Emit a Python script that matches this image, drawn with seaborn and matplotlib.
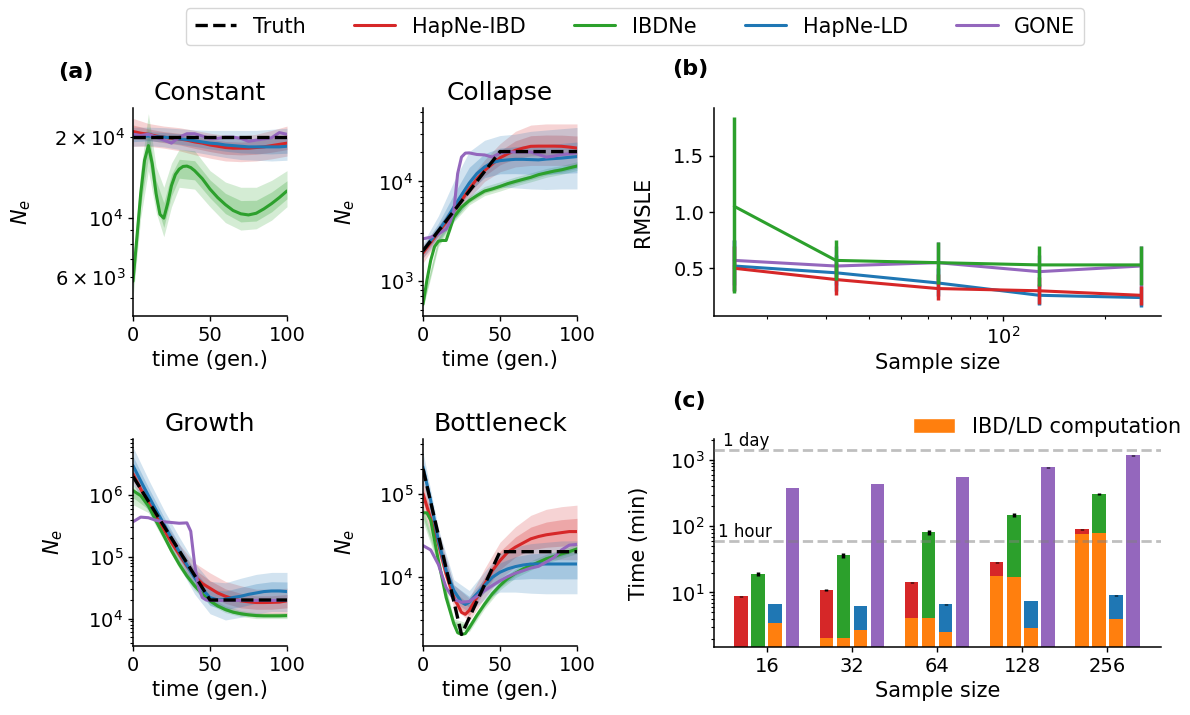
import numpy as np
import pandas as pd
import matplotlib
matplotlib.use("Agg")
import matplotlib.pyplot as plt
import matplotlib.transforms as mtransforms
from matplotlib.colors import to_hex
from matplotlib.lines import Line2D
from matplotlib.patches import Patch
import seaborn as sns

# ------------------------------------------------------------------ data
METHODS = ["HapNe-IBD", "IBDNe", "HapNe-LD", "GONE"]
COLORS = {"HapNe-IBD": "#d62728", "IBDNe": "#2ca02c",
          "HapNe-LD": "#1f77b4", "GONE": "#9467bd"}
ORANGE = "#ff7f0e"

T5 = list(range(0, 101, 5))
T10 = list(range(0, 101, 10))

# ---- (a) Constant
CONST_TRUTH_X = [0, 100]
CONST_TRUTH_Y = [2e4, 2e4]
CONST_IBD_Y = [2.1e4, 2.07e4, 2.05e4, 2.02e4, 2.0e4, 1.98e4, 1.97e4, 1.95e4, 1.92e4, 1.9e4, 1.87e4,
               1.85e4, 1.83e4, 1.82e4, 1.82e4, 1.82e4, 1.83e4, 1.84e4, 1.86e4, 1.88e4, 1.9e4]
CONST_IBD_LO = [1.85e4, 1.85e4, 1.82e4, 1.78e4, 1.72e4, 1.67e4, 1.63e4, 1.62e4, 1.63e4, 1.66e4, 1.7e4]
CONST_IBD_HI = [2.35e4, 2.25e4, 2.2e4, 2.17e4, 2.12e4, 2.07e4, 2.03e4, 2.02e4, 2.05e4, 2.12e4, 2.2e4]
CONST_IBDNE_X = [0, 2.5, 5, 7.5, 10, 12.5, 15, 17.5, 20, 22.5, 25, 27.5, 30, 32.5, 35, 37.5, 40,
                 45, 50, 55, 60, 65, 70, 75, 80, 85, 90, 95, 100]
CONST_IBDNE_Y = [5.8e3, 8.4e3, 1.23e4, 1.64e4, 1.86e4, 1.59e4, 1.23e4, 1.03e4, 9.97e3, 1.13e4, 1.32e4,
                 1.45e4, 1.52e4, 1.555e4, 1.56e4, 1.54e4, 1.5e4, 1.4e4, 1.28e4, 1.19e4, 1.12e4,
                 1.065e4, 1.035e4, 1.025e4, 1.04e4, 1.08e4, 1.13e4, 1.19e4, 1.26e4]
CONST_IBDNE_BX = [0, 5, 10, 15, 20, 25, 30, 40, 50, 60, 70, 80, 90, 100]
CONST_IBDNE_LO = [5.0e3, 1.0e4, 1.5e4, 1.05e4, 8.5e3, 1.1e4, 1.3e4, 1.28e4, 1.1e4, 9.6e3, 9.0e3,
                  9.1e3, 9.8e3, 1.1e4]
CONST_IBDNE_HI = [6.8e3, 1.5e4, 2.45e4, 1.55e4, 1.3e4, 1.6e4, 1.8e4, 1.78e4, 1.5e4, 1.36e4, 1.3e4,
                  1.3e4, 1.38e4, 1.5e4]
CONST_LD_Y = [2.0e4, 2.01e4, 2.02e4, 2.01e4, 2.0e4, 1.99e4, 1.97e4, 1.96e4, 1.94e4, 1.92e4, 1.9e4,
              1.89e4, 1.87e4, 1.86e4, 1.85e4, 1.84e4, 1.84e4, 1.84e4, 1.84e4, 1.84e4, 1.85e4]
CONST_LD_LO = [1.85e4, 1.86e4, 1.84e4, 1.8e4, 1.76e4, 1.72e4, 1.68e4, 1.65e4, 1.64e4, 1.63e4, 1.64e4]
CONST_LD_HI = [2.18e4, 2.18e4, 2.17e4, 2.15e4, 2.13e4, 2.12e4, 2.12e4, 2.12e4, 2.12e4, 2.14e4, 2.16e4]
CONST_GONE_Y = [2.05e4, 2.03e4, 2.05e4, 2.0e4, 1.95e4, 1.9e4, 2.0e4, 2.06e4, 2.06e4, 2.02e4, 1.98e4,
                1.98e4, 2.0e4, 2.0e4, 1.98e4, 1.93e4, 1.95e4, 1.97e4, 1.99e4, 2.08e4, 2.05e4]

# ---- (a) Collapse
COLL_TRUTH_X = [0, 50, 100]
COLL_TRUTH_Y = [2e3, 2e4, 2e4]
COLL_IBD_Y = [1.9e3, 2.43e3, 3.08e3, 3.88e3, 5.1e3, 6.43e3, 8.4e3, 1.06e4, 1.29e4, 1.5e4, 1.73e4,
              1.9e4, 2.06e4, 2.17e4, 2.26e4, 2.27e4, 2.27e4, 2.27e4, 2.26e4, 2.22e4, 2.17e4]
COLL_IBD_LO = [1.5e3, 2.6e3, 4.3e3, 6.8e3, 1.0e4, 1.25e4, 1.4e4, 1.45e4, 1.45e4, 1.45e4, 1.4e4]
COLL_IBD_HI = [2.3e3, 3.6e3, 6.0e3, 1.05e4, 1.65e4, 2.4e4, 3.2e4, 3.7e4, 3.8e4, 3.8e4, 3.8e4]
COLL_IBDNE_X = [0, 2.5, 5, 7.5, 10, 12.5, 15, 17.5, 20, 25, 30, 35, 40, 45, 50, 55, 60, 65, 70,
                75, 80, 85, 90, 95, 100]
COLL_IBDNE_Y = [580, 1.0e3, 1.6e3, 2.2e3, 2.5e3, 2.54e3, 2.54e3, 3.3e3, 4.36e3, 5.5e3, 6.4e3,
                7.2e3, 8.0e3, 8.4e3, 8.9e3, 9.5e3, 1.0e4, 1.05e4, 1.1e4, 1.17e4, 1.22e4, 1.27e4,
                1.31e4, 1.37e4, 1.43e4]
COLL_IBDNE_LO = [520, 2.2e3, 3.9e3, 5.8e3, 7.2e3, 8.0e3, 9.0e3, 9.9e3, 1.1e4, 1.18e4, 1.29e4]
COLL_IBDNE_HI = [650, 2.8e3, 4.9e3, 7.1e3, 8.9e3, 9.9e3, 1.11e4, 1.22e4, 1.35e4, 1.45e4, 1.58e4]
COLL_LD_Y = [2.0e3, 2.55e3, 3.2e3, 4.1e3, 5.5e3, 7.3e3, 9.6e3, 1.2e4, 1.4e4, 1.55e4, 1.62e4,
             1.65e4, 1.67e4, 1.67e4, 1.66e4, 1.65e4, 1.68e4, 1.7e4, 1.72e4, 1.75e4, 1.78e4]
COLL_LD_LO = [1.7e3, 2.5e3, 4.0e3, 6.5e3, 8.5e3, 8.8e3, 8.6e3, 8.4e3, 8.3e3, 8.4e3, 8.4e3]
COLL_LD_HI = [2.4e3, 4.5e3, 1.0e4, 2.0e4, 2.6e4, 2.9e4, 3.0e4, 3.2e4, 3.3e4, 3.4e4, 3.5e4]
COLL_GONE_X = [0, 5, 10, 15, 17.5, 20, 22.5, 25, 27.5, 30, 35, 40, 45, 50, 55, 60, 65, 70, 75,
               80, 85, 90, 95, 100]
COLL_GONE_Y = [2.64e3, 2.74e3, 2.96e3, 3.3e3, 3.9e3, 5.0e3, 1.2e4, 1.76e4, 1.93e4, 1.94e4, 1.87e4,
               1.85e4, 1.76e4, 1.93e4, 1.98e4, 1.98e4, 1.98e4, 1.98e4, 1.87e4, 1.76e4, 1.8e4,
               1.87e4, 1.9e4, 1.95e4]

# ---- (a) Growth
GROW_TRUTH_X = [0, 50, 100]
GROW_TRUTH_Y = [2e6, 2e4, 2e4]
GROW_IBD_Y = [2.2e6, 1.25e6, 7.6e5, 4.6e5, 2.8e5, 1.7e5, 1.1e5, 7.1e4, 4.9e4, 3.7e4, 3.1e4, 2.6e4,
              2.3e4, 2.1e4, 1.94e4, 1.87e4, 1.82e4, 1.82e4, 1.83e4, 1.85e4, 1.94e4]
GROW_IBD_LO = [1.6e6, 5.8e5, 2.1e5, 8.0e4, 3.4e4, 1.9e4, 1.35e4, 1.15e4, 1.1e4, 1.1e4, 1.15e4]
GROW_IBD_HI = [3.0e6, 1.0e6, 3.8e5, 1.6e5, 8.0e4, 5.5e4, 4.0e4, 3.4e4, 3.0e4, 3.0e4, 3.1e4]
GROW_IBDNE_Y = [1.18e6, 9.8e5, 6.7e5, 3.8e5, 2.2e5, 1.25e5, 7.6e4, 4.9e4, 3.4e4, 2.5e4, 1.94e4,
                1.6e4, 1.4e4, 1.27e4, 1.2e4, 1.15e4, 1.12e4, 1.11e4, 1.11e4, 1.11e4, 1.12e4]
GROW_IBDNE_LO = [7.0e5, 5.2e5, 1.85e5, 6.5e4, 2.9e4, 1.68e4, 1.25e4, 1.08e4, 1.0e4, 1.0e4, 1.0e4]
GROW_IBDNE_HI = [1.5e6, 8.3e5, 2.6e5, 8.8e4, 3.9e4, 2.2e4, 1.6e4, 1.35e4, 1.25e4, 1.24e4, 1.25e4]
GROW_LD_Y = [3.0e6, 1.7e6, 9.8e5, 5.7e5, 3.4e5, 2.0e5, 1.22e5, 7.4e4, 4.6e4, 3.0e4, 2.2e4, 2.0e4,
             2.06e4, 2.2e4, 2.3e4, 2.47e4, 2.6e4, 2.74e4, 2.8e4, 2.8e4, 2.74e4]
GROW_LD_LO = [1.5e6, 5.5e5, 2.0e5, 7.0e4, 2.5e4, 1.2e4, 9.5e3, 1.05e4, 1.2e4, 1.3e4, 1.3e4]
GROW_LD_HI = [6.0e6, 1.8e6, 5.8e5, 2.1e5, 8.0e4, 4.0e4, 3.8e4, 4.5e4, 5.2e4, 5.6e4, 5.6e4]
GROW_GONE_X = [0, 5, 10, 15, 20, 25, 30, 35, 37.5, 40, 42.5, 45, 47.5, 50, 55, 60, 65, 70, 75,
               80, 85, 90, 95, 100]
GROW_GONE_Y = [3.7e5, 4.4e5, 4.3e5, 3.9e5, 3.7e5, 3.6e5, 3.5e5, 3.55e5, 2.6e5, 7.6e4, 3.2e4,
               2.2e4, 2.0e4, 1.97e4, 1.97e4, 1.97e4, 1.97e4, 1.97e4, 1.97e4, 1.97e4, 1.97e4,
               1.97e4, 1.97e4, 1.97e4]

# ---- (a) Bottleneck
BOTT_TRUTH_X = [0, 25, 50, 100]
BOTT_TRUTH_Y = [2e5, 2e3, 2e4, 2e4]
BOTT_IBD_X = [0, 5, 10, 15, 20, 25, 27.5, 30, 35, 40, 45, 50, 55, 60, 65, 70, 75, 80, 85, 90, 95, 100]
BOTT_IBD_Y = [1.0e5, 5.0e4, 2.5e4, 1.07e4, 5.6e3, 3.7e3, 3.5e3, 3.9e3, 5.6e3, 8.1e3, 1.18e4,
              1.56e4, 1.97e4, 2.27e4, 2.55e4, 2.86e4, 3.05e4, 3.2e4, 3.3e4, 3.4e4, 3.5e4, 3.5e4]
BOTT_IBD_LO = [6.5e4, 1.8e4, 4.2e3, 2.9e3, 5.5e3, 9.5e3, 1.3e4, 1.55e4, 1.6e4, 1.6e4, 1.6e4]
BOTT_IBD_HI = [1.5e5, 3.6e4, 8.0e3, 5.5e3, 1.25e4, 2.6e4, 4.0e4, 5.5e4, 6.5e4, 7.0e4, 7.3e4]
BOTT_IBDNE_X = [0, 2.5, 5, 10, 15, 20, 22.5, 25, 27.5, 30, 35, 40, 45, 50, 55, 60, 65, 70, 75, 80,
                85, 90, 95, 100]
BOTT_IBDNE_Y = [5.9e4, 5.9e4, 4.8e4, 1.56e4, 5.6e3, 2.7e3, 2.1e3, 2.0e3, 2.05e3, 2.4e3, 3.4e3,
                4.65e3, 6.2e3, 7.8e3, 9.5e3, 1.1e4, 1.24e4, 1.36e4, 1.49e4, 1.64e4, 1.75e4,
                1.88e4, 2.0e4, 2.16e4]
BOTT_IBDNE_LO = [4.6e4, 1.35e4, 2.4e3, 2.15e3, 4.1e3, 6.9e3, 9.7e3, 1.2e4, 1.45e4, 1.66e4, 1.9e4]
BOTT_IBDNE_HI = [7.0e4, 1.8e4, 3.1e3, 2.7e3, 5.3e3, 8.9e3, 1.25e4, 1.55e4, 1.86e4, 2.12e4, 2.45e4]
BOTT_LD_X = BOTT_IBD_X
BOTT_LD_Y = [2.1e5, 8.3e4, 2.7e4, 1.18e4, 6.8e3, 4.9e3, 4.6e3, 4.9e3, 6.2e3, 7.8e3, 9.8e3,
             1.13e4, 1.24e4, 1.32e4, 1.38e4, 1.42e4, 1.42e4, 1.42e4, 1.42e4, 1.42e4, 1.42e4, 1.42e4]
BOTT_LD_LO = [1.4e5, 1.9e4, 5.0e3, 3.7e3, 5.3e3, 6.5e3, 6.5e3, 6.3e3, 6.2e3, 6.2e3, 6.2e3]
BOTT_LD_HI = [3.2e5, 3.8e4, 9.2e3, 6.8e3, 1.15e4, 1.9e4, 2.3e4, 2.5e4, 2.6e4, 2.7e4, 2.7e4]
BOTT_GONE_Y = [2.37e4, 2.1e4, 1.4e4, 7.4e3, 5.3e3, 4.9e3, 5.0e3, 5.8e3, 6.8e3, 7.8e3, 8.9e3, 1.0e4,
               1.1e4, 1.18e4, 1.27e4, 1.33e4, 1.5e4, 1.7e4, 2.1e4, 2.4e4, 2.45e4]

# ---- (b) RMSLE vs sample size
RM_SIZES = [16, 32, 64, 128, 256]
RM_IBD = [0.50, 0.40, 0.32, 0.30, 0.26]
RM_IBD_LO = [0.30, 0.26, 0.22, 0.18, 0.17]
RM_IBD_HI = [0.70, 0.55, 0.45, 0.42, 0.34]
RM_IBDNE = [1.05, 0.57, 0.55, 0.53, 0.53]
RM_IBDNE_LO = [0.28, 0.40, 0.36, 0.34, 0.35]
RM_IBDNE_HI = [1.84, 0.75, 0.73, 0.70, 0.70]
RM_LD = [0.52, 0.46, 0.37, 0.26, 0.24]
RM_LD_LO = [0.30, 0.30, 0.25, 0.17, 0.16]
RM_LD_HI = [0.75, 0.62, 0.50, 0.36, 0.33]
RM_GONE = [0.57, 0.52, 0.55, 0.47, 0.52]
RM_GONE_LO = [0.35, 0.35, 0.40, 0.33, 0.33]
RM_GONE_HI = [0.75, 0.70, 0.73, 0.62, 0.70]

# ---- (c) run time
RT_SIZES = ["16", "32", "64", "128", "256"]
RT_IBD_TOTAL = [8.8, 10.8, 14.3, 28.4, 90.4]
RT_IBDNE_TOTAL = [18.9, 36.6, 80.5, 147, 305]
RT_LD_TOTAL = [6.65, 6.2, 6.6, 7.4, 9.0]
RT_GONE_TOTAL = [377, 432, 552, 777, 1175]
RT_IBD_COMP = [1.0, 2.06, 4.14, 17.6, 76]
RT_IBDNE_COMP = [1.0, 2.06, 4.14, 16.9, 78.8]
RT_LD_COMP = [3.44, 2.7, 2.54, 2.92, 4.0]
RT_GONE_COMP = [np.nan] * 5
RT_IBD_ERR = [0.15, 0.3, 0.3, 0.5, 1.5]
RT_IBDNE_ERR = [1.2, 3.5, 6.0, 10.0, 8.0]
RT_LD_ERR = [0.05, 0.05, 0.05, 0.05, 0.05]
RT_GONE_ERR = [2.0, 4.0, 6.0, 8.0, 10.0]
ONE_DAY = 1440
ONE_HOUR = 60

# ------------------------------------------------------------------ style
sns.set_theme(style="ticks")
plt.rcParams.update({
    "font.family": ["DejaVu Sans"],
    "font.size": 14,
    "axes.titlesize": 18,
    "axes.labelsize": 15,
    "xtick.labelsize": 14,
    "ytick.labelsize": 14,
    "legend.fontsize": 15,
    "text.color": "black",
    "axes.labelcolor": "black",
    "axes.edgecolor": "black",
    "xtick.color": "black",
    "ytick.color": "black",
    "axes.linewidth": 1.1,
    "xtick.major.size": 3.5,
    "ytick.major.size": 3.5,
    "xtick.minor.size": 2,
    "ytick.minor.size": 2,
    "xtick.major.width": 1.0,
    "ytick.major.width": 1.0,
    "xtick.minor.width": 0.8,
    "ytick.minor.width": 0.8,
})

W, H = 1190, 715
fig = plt.figure(figsize=(W / 100, H / 100), dpi=100)


def px_axes(left, top, right, bottom):
    return fig.add_axes([left / W, 1 - bottom / H, (right - left) / W, (bottom - top) / H])


LW = 2.2


def draw_scenario(ax, title, truth_x, truth_y, series, ylim, ylabel_x):
    ax.set_yscale("log")
    for method, x, y, bx, lo, hi in series:
        if bx is None:
            continue
        line = pd.Series(y, index=x)
        mid = line.loc[bx].values
        lo = np.asarray(lo)
        hi = np.asarray(hi)
        ax.fill_between(bx, lo, hi, color=COLORS[method], alpha=0.2, lw=0)
        ax.fill_between(bx, np.sqrt(lo * mid), np.sqrt(hi * mid), color=COLORS[method],
                        alpha=0.25, lw=0)
    for method, x, y, bx, lo, hi in series:
        sns.lineplot(x=x, y=y, color=COLORS[method], lw=LW, ax=ax)
    sns.lineplot(x=truth_x, y=truth_y, color="black", lw=2.4, ls="--", ax=ax)
    ax.set_xlim(0, 100)
    ax.set_ylim(*ylim)
    ax.set_xticks([0, 50, 100])
    ax.set_title(title)
    ax.set_xlabel("time (gen.)")
    ax.set_ylabel("$N_e$")
    ax.yaxis.set_label_coords(ylabel_x, 0.5)
    sns.despine(ax=ax)


ax_const = px_axes(133, 108, 287, 316)
draw_scenario(ax_const, "Constant", CONST_TRUTH_X, CONST_TRUTH_Y, [
    ("HapNe-IBD", T5, CONST_IBD_Y, T10, CONST_IBD_LO, CONST_IBD_HI),
    ("IBDNe", CONST_IBDNE_X, CONST_IBDNE_Y, CONST_IBDNE_BX, CONST_IBDNE_LO, CONST_IBDNE_HI),
    ("HapNe-LD", T5, CONST_LD_Y, T10, CONST_LD_LO, CONST_LD_HI),
    ("GONE", T5, CONST_GONE_Y, None, None, None),
], (4.3e3, 2.57e4), -0.65)

ax_coll = px_axes(423, 108, 577, 316)
draw_scenario(ax_coll, "Collapse", COLL_TRUTH_X, COLL_TRUTH_Y, [
    ("HapNe-IBD", T5, COLL_IBD_Y, T10, COLL_IBD_LO, COLL_IBD_HI),
    ("IBDNe", COLL_IBDNE_X, COLL_IBDNE_Y, T10, COLL_IBDNE_LO, COLL_IBDNE_HI),
    ("HapNe-LD", T5, COLL_LD_Y, T10, COLL_LD_LO, COLL_LD_HI),
    ("GONE", COLL_GONE_X, COLL_GONE_Y, None, None, None),
], (440, 5.5e4), -0.43)

ax_grow = px_axes(133, 439, 287, 646)
draw_scenario(ax_grow, "Growth", GROW_TRUTH_X, GROW_TRUTH_Y, [
    ("HapNe-IBD", T5, GROW_IBD_Y, T10, GROW_IBD_LO, GROW_IBD_HI),
    ("IBDNe", T5, GROW_IBDNE_Y, T10, GROW_IBDNE_LO, GROW_IBDNE_HI),
    ("HapNe-LD", T5, GROW_LD_Y, T10, GROW_LD_LO, GROW_LD_HI),
    ("GONE", GROW_GONE_X, GROW_GONE_Y, None, None, None),
], (3.6e3, 8.1e6), -0.44)

ax_bott = px_axes(423, 439, 577, 646)
draw_scenario(ax_bott, "Bottleneck", BOTT_TRUTH_X, BOTT_TRUTH_Y, [
    ("HapNe-IBD", BOTT_IBD_X, BOTT_IBD_Y, T10, BOTT_IBD_LO, BOTT_IBD_HI),
    ("IBDNe", BOTT_IBDNE_X, BOTT_IBDNE_Y, T10, BOTT_IBDNE_LO, BOTT_IBDNE_HI),
    ("HapNe-LD", BOTT_LD_X, BOTT_LD_Y, T10, BOTT_LD_LO, BOTT_LD_HI),
    ("GONE", T5, BOTT_GONE_Y, None, None, None),
], (1.45e3, 4.6e5), -0.43)

# ---- (b)
ax_b = px_axes(714, 108, 1161, 316)
ax_b.set_xscale("log")
rm = {
    "GONE": (RM_GONE, RM_GONE_LO, RM_GONE_HI),
    "HapNe-LD": (RM_LD, RM_LD_LO, RM_LD_HI),
    "HapNe-IBD": (RM_IBD, RM_IBD_LO, RM_IBD_HI),
    "IBDNe": (RM_IBDNE, RM_IBDNE_LO, RM_IBDNE_HI),
}
for method, (vals, lo, hi) in rm.items():
    ax_b.vlines(RM_SIZES, lo, hi, color=COLORS[method], lw=2.5)
    sns.lineplot(x=RM_SIZES, y=vals, color=COLORS[method], lw=LW, ax=ax_b)
pad = (RM_SIZES[-1] / RM_SIZES[0]) ** 0.05
ax_b.set_xlim(RM_SIZES[0] / pad, RM_SIZES[-1] * pad)
ax_b.set_yticks([0.5, 1.0, 1.5])
ax_b.set_xlabel("Sample size")
ax_b.set_ylabel("RMSLE")
ax_b.yaxis.set_label_coords(-0.136, 0.5)
sns.despine(ax=ax_b)

# ---- (c)
ax_c = px_axes(714, 439, 1161, 647)
ax_c.set_yscale("log")
rt_total = {"HapNe-IBD": RT_IBD_TOTAL, "IBDNe": RT_IBDNE_TOTAL,
            "HapNe-LD": RT_LD_TOTAL, "GONE": RT_GONE_TOTAL}
rt_comp = {"HapNe-IBD": RT_IBD_COMP, "IBDNe": RT_IBDNE_COMP,
           "HapNe-LD": RT_LD_COMP, "GONE": RT_GONE_COMP}
rt_err = {"HapNe-IBD": RT_IBD_ERR, "IBDNe": RT_IBDNE_ERR,
          "HapNe-LD": RT_LD_ERR, "GONE": RT_GONE_ERR}
rows = []
for m in METHODS:
    for i, s in enumerate(RT_SIZES):
        rows.append({"size": s, "method": m, "total": rt_total[m][i], "comp": rt_comp[m][i]})
df_rt = pd.DataFrame(rows)

sns.barplot(data=df_rt, x="size", y="total", hue="method", order=RT_SIZES, hue_order=METHODS,
            palette=COLORS, width=0.8, gap=0.2, saturation=1, errorbar=None, legend=False,
            linewidth=0, ax=ax_c)
color_to_method = {to_hex(c): m for m, c in COLORS.items()}
for patch in list(ax_c.patches):
    m = color_to_method.get(to_hex(patch.get_facecolor()))
    if m is None:
        continue
    cx = patch.get_x() + patch.get_width() / 2
    idx = int(round(cx))
    ax_c.errorbar(cx, patch.get_height(), yerr=rt_err[m][idx], fmt="none",
                  ecolor="black", elinewidth=2.5, capsize=0, zorder=4)
df_comp = df_rt.dropna(subset=["comp"])
sns.barplot(data=df_comp, x="size", y="comp", hue="method", order=RT_SIZES, hue_order=METHODS,
            palette={m: ORANGE for m in METHODS}, width=0.8, gap=0.2, saturation=1,
            errorbar=None, legend=False, linewidth=0, ax=ax_c)

for val in (ONE_DAY, ONE_HOUR):
    ax_c.axhline(val, color="grey", ls="--", lw=2, alpha=0.5, zorder=5)
trans = mtransforms.blended_transform_factory(ax_c.transAxes, ax_c.transData)
ax_c.text(0.02, ONE_DAY, "1 day", transform=trans, va="bottom", ha="left", fontsize=12)
ax_c.text(0.01, ONE_HOUR, "1 hour", transform=trans, va="bottom", ha="left", fontsize=12)
ax_c.set_xlim(-0.62, 4.63)
ax_c.set_ylim(1.5, 2080)
ax_c.set_xlabel("Sample size")
ax_c.set_ylabel("Time (min)")
ax_c.yaxis.set_label_coords(-0.145, 0.5)
ax_c.legend(handles=[Patch(facecolor=ORANGE, label="IBD/LD computation")],
            loc="center right", bbox_to_anchor=(1.063, 1.058), frameon=False,
            borderaxespad=0, fontsize=15, handletextpad=0.8)
sns.despine(ax=ax_c)

# ---- panel letters
fig.text(76 / W, 1 - 72 / H, "(a)", ha="center", va="center", fontsize=16, fontweight="bold")
fig.text(690 / W, 1 - 69 / H, "(b)", ha="center", va="center", fontsize=16, fontweight="bold")
fig.text(689 / W, 1 - 401 / H, "(c)", ha="center", va="center", fontsize=16, fontweight="bold")

# ---- figure legend
handles = [Line2D([], [], color="black", ls="--", lw=2.4, label="Truth")]
handles += [Line2D([], [], color=COLORS[m], lw=LW, label=m) for m in METHODS]
fig.legend(handles=handles, loc="upper center", bbox_to_anchor=(635 / W, 1 + 2 / H), ncol=5,
           frameon=True, fontsize=15, columnspacing=2.3)

fig.savefig("out.png", dpi=100)
